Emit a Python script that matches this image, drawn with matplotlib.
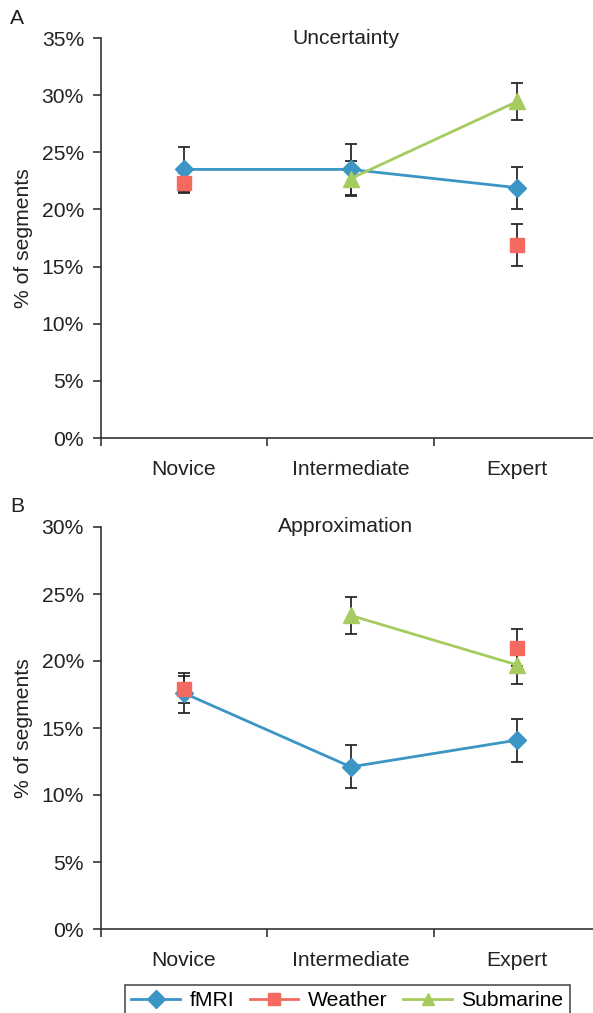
import numpy as np
import matplotlib.pyplot as plt
from matplotlib.ticker import FixedLocator, FuncFormatter

plt.rcParams['font.family'] = ['Liberation Sans', 'DejaVu Sans']

levels = ["Novice", "Intermediate", "Expert"]
series = ["fMRI", "Weather", "Submarine"]
colors = {"fMRI": "#3b95c5", "Weather": "#f46a60", "Submarine": "#a6cb5e"}
markers = {"fMRI": "D", "Weather": "s", "Submarine": "^"}

# Uncertainty (% of segments), NaN where a study had no group at that level
unc_fmri = [23.5, 23.5, 21.9]
unc_fmri_err = [2.0, 2.2, 1.85]
unc_weather = [22.3, np.nan, 16.9]
unc_weather_err = [0.9, np.nan, 1.85]
unc_sub = [np.nan, 22.7, 29.45]
unc_sub_err = [np.nan, 1.5, 1.65]

# Approximation (% of segments)
app_fmri = [17.6, 12.1, 14.1]
app_fmri_err = [1.5, 1.6, 1.6]
app_weather = [17.9, np.nan, 21.0]
app_weather_err = [1.0, np.nan, 1.4]
app_sub = [np.nan, 23.4, 19.7]
app_sub_err = [np.nan, 1.35, 1.45]

panels = [
    ("A", "Uncertainty", 35, {"fMRI": (unc_fmri, unc_fmri_err),
                              "Weather": (unc_weather, unc_weather_err),
                              "Submarine": (unc_sub, unc_sub_err)}),
    ("B", "Approximation", 30, {"fMRI": (app_fmri, app_fmri_err),
                                "Weather": (app_weather, app_weather_err),
                                "Submarine": (app_sub, app_sub_err)}),
]

W, H = 593, 1013
FS = 15.2
fig = plt.figure(figsize=(W / 100, H / 100), dpi=100)

# axes boxes in pixels: left, bottom(from top), height
boxes = [(100.7, 438, 400), (100.7, 929, 402)]
x = np.arange(len(levels)) + 0.5

handles = {}
for (letter, title, ymax, data), (left, bottom, height) in zip(panels, boxes):
    ax = fig.add_axes([left / W, (H - bottom) / H, 500 / W, height / H])
    # draw order: fMRI, Submarine, Weather so the squares sit on top
    for name in ["fMRI", "Submarine", "Weather"]:
        vals, errs = data[name]
        ax.errorbar(x, vals, yerr=errs, color=colors[name], lw=2.0,
                    marker=markers[name], ms=9.5 if name != "Submarine" else 11,
                    mec=colors[name], ecolor="#2a2a2a", elinewidth=1.3,
                    capsize=4, capthick=1.3)
        handles[name] = plt.Line2D([], [], color=colors[name], lw=2.0,
                                   marker=markers[name], ms=9)
    ax.set_xlim(0, 3)
    ax.set_ylim(0, ymax)
    for s in ["top", "right"]:
        ax.spines[s].set_visible(False)
    for s in ["left", "bottom"]:
        ax.spines[s].set_color("#333333")
        ax.spines[s].set_linewidth(1.2)
    ax.xaxis.set_major_locator(FixedLocator([0, 1, 2, 3]))
    ax.xaxis.set_minor_locator(FixedLocator(x))
    ax.set_xticklabels([])
    ax.set_xticklabels(levels, minor=True)
    ax.tick_params(axis="x", which="major", length=6, width=1.2, color="#333333")
    ax.tick_params(axis="x", which="minor", length=0, pad=16, labelsize=FS,
                   labelcolor="#222222")
    ax.set_yticks(np.arange(0, ymax + 1, 5))
    ax.yaxis.set_major_formatter(FuncFormatter(lambda v, p: "%d%%" % v))
    ax.tick_params(axis="y", length=6, width=1.2, color="#333333", pad=6,
                   labelsize=FS, labelcolor="#222222")
    ax.set_ylabel("% of segments", fontsize=FS, color="#222222", labelpad=6)
    ax.text(0.49, 1.0, title, transform=ax.transAxes, ha="center", va="center",
            fontsize=FS, color="#222222")
    fig.text(10 / W, 1 - (bottom - height - 20) / H, letter, fontsize=FS,
             ha="left", va="center", color="#222222")

leg = fig.legend([handles[n] for n in series], series, loc="upper center",
                 bbox_to_anchor=(0.586, 1 - 985 / H), ncol=3, fontsize=FS,
                 frameon=True, fancybox=False, handlelength=2.3,
                 columnspacing=0.75, handletextpad=0.45, borderpad=0.3,
                 borderaxespad=0)
leg.get_frame().set_edgecolor("#222222")
leg.get_frame().set_linewidth(1.2)

fig.savefig("out.png", dpi=100)
